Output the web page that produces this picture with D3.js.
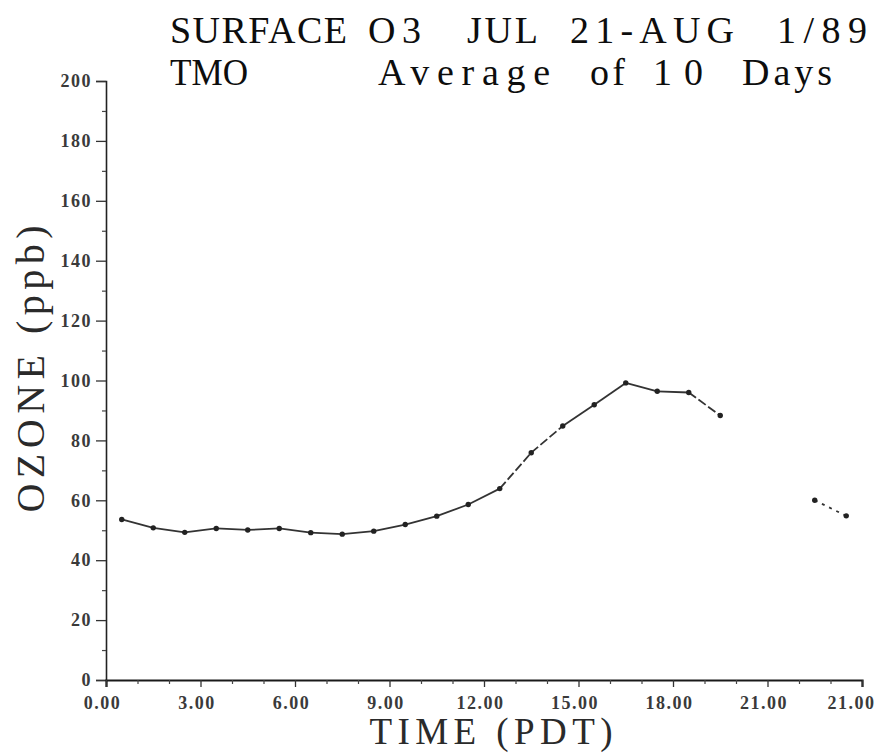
<!DOCTYPE html>
<html>
<head>
<meta charset="utf-8">
<script src="https://cdn.jsdelivr.net/npm/d3@7/dist/d3.min.js"></script>
<style>
  html, body { margin: 0; padding: 0; background: #fff; }
  svg { display: block; }
</style>
</head>
<body>
<svg id="chart" width="891" height="753"></svg>
<script>
// ---- data ----
const hours = [0.5, 1.5, 2.5, 3.5, 4.5, 5.5, 6.5, 7.5, 8.5, 9.5, 10.5, 11.5, 12.5,
               13.5, 14.5, 15.5, 16.5, 17.5, 18.5, 19.5, 20.5, 21.5, 22.5, 23.5];
const ozone = [53.6, 50.8, 49.3, 50.6, 50.1, 50.6, 49.2, 48.7, 49.7, 51.9, 54.7, 58.6, 63.9,
               75.9, 84.8, 91.9, 99.2, 96.4, 96.0, 88.3, null, null, 60.0, 54.8];
const xTickValues = [0, 3, 6, 9, 12, 15, 18, 21, 24];
const xTickLabels = ["0.00", "3.00", "6.00", "9.00", "12.00", "15.00", "18.00", "21.00", "21.00"];
const yTickValues = [0, 20, 40, 60, 80, 100, 120, 140, 160, 180, 200];
const titleLine1 = ["SURFACE", "O3", "JUL", "21-AUG", "1/89"];
const titleLine2 = ["TMO", "Average", "of", "10", "Days"];
const xTitle = "TIME (PDT)";
const yTitle = "OZONE (ppb)";

// ---- layout ----
const svg = d3.select("#chart");
const x = d3.scaleLinear().domain([0, 24]).range([106, 862]);
const y = d3.scaleLinear().domain([0, 200]).range([680, 81]);
const serif = "'Liberation Serif', 'DejaVu Serif', serif";
const ink = "#0d0d0d";

// word placement of the two title lines: [left, width]
const line1Boxes = [[170, 177], [368, 53], [467, 71], [570, 164], [777, 90]];
const line2Boxes = [[170, 78], [378, 172], [590, 35], [653, 50], [742, 90]];

function titleWords(words, boxes, baseline) {
  svg.append("g").selectAll("text").data(words).join("text")
    .attr("x", (d, i) => boxes[i][0])
    .attr("y", baseline)
    .attr("font-family", serif)
    .attr("font-size", 38)
    .attr("fill", ink)
    .text(d => d)
    .each(function (d, i) {
      const natural = this.getComputedTextLength();
      d3.select(this)
        .attr("textLength", boxes[i][1])
        .attr("lengthAdjust", natural > boxes[i][1] ? "spacingAndGlyphs" : "spacing");
    });
}
titleWords(titleLine1, line1Boxes, 43);
titleWords(titleLine2, line2Boxes, 85);

// axis titles
svg.append("text").attr("x", 491).attr("y", 744)
  .attr("text-anchor", "middle")
  .attr("font-family", serif)
  .attr("font-size", 37).attr("fill", "#2a2a2a")
  .attr("textLength", 243).attr("lengthAdjust", "spacing")
  .text(xTitle);
svg.append("text")
  .attr("transform", "translate(44,369) rotate(-90)")
  .attr("text-anchor", "middle")
  .attr("font-family", serif)
  .attr("font-size", 40).attr("fill", "#2a2a2a")
  .attr("textLength", 287).attr("lengthAdjust", "spacing")
  .text(yTitle);

// y axis
const yAxis = d3.axisLeft(y).tickValues(yTickValues).tickSize(10).tickPadding(4)
  .tickFormat(d3.format("d"));
const gy = svg.append("g").attr("transform", "translate(106,0)").call(yAxis);
gy.select(".domain").attr("stroke", "#222").attr("stroke-width", 1.6);
gy.selectAll(".tick line").attr("stroke", "#333").attr("stroke-width", 1.3);
gy.selectAll(".tick text").style("font-family", serif).style("font-size", "18px")
  .style("font-weight", "bold").style("letter-spacing", "1.5px").attr("fill", "#3a3a3a");
const yMinor = d3.axisLeft(y).tickValues(d3.range(10, 200, 20)).tickSize(4).tickFormat("");
const gym = svg.append("g").attr("transform", "translate(106,0)").call(yMinor);
gym.select(".domain").remove();
gym.selectAll(".tick line").attr("stroke", "#444").attr("stroke-width", 1.2);

// x axis
const xAxis = d3.axisBottom(x).tickValues(xTickValues).tickSize(7).tickPadding(9)
  .tickFormat((d, i) => xTickLabels[i]);
const gx = svg.append("g").attr("transform", "translate(0,680)").call(xAxis);
gx.select(".domain").attr("stroke", "#1a1a1a").attr("stroke-width", 2.2);
gx.selectAll(".tick line").attr("stroke", "#333").attr("stroke-width", 1.3);
gx.selectAll(".tick text").style("font-family", serif).style("font-size", "18px")
  .style("font-weight", "bold").style("letter-spacing", "1.5px").attr("fill", "#3a3a3a")
  .attr("dx", (d, i) => i === xTickValues.length - 1 ? -11 : -4);
const xMinor = d3.axisBottom(x).tickValues(d3.range(1, 24).filter(h => h % 3 !== 0))
  .tickSize(4).tickFormat("");
const gxm = svg.append("g").attr("transform", "translate(0,680)").call(xMinor);
gxm.select(".domain").remove();
gxm.selectAll(".tick line").attr("stroke", "#444").attr("stroke-width", 1.2);

// data line
const pts = hours.map((h, i) => ({ h, v: ozone[i] }));
const segs = [];
for (let i = 0; i < pts.length - 1; i++) {
  if (pts[i].v != null && pts[i + 1].v != null) segs.push([pts[i], pts[i + 1]]);
}
const line = d3.line().x(d => x(d.h)).y(d => y(d.v));
svg.append("g").selectAll("path").data(segs).join("path")
  .attr("d", d => line(d))
  .attr("fill", "none")
  .attr("stroke", "#333")
  .attr("stroke-width", 1.8)
  .attr("stroke-dasharray", d => {
    if (d[0].h >= 22) return "3,5";
    if (d[0].h >= 18 || (d[0].h >= 12 && d[0].h < 14)) return "9,3";
    return null;
  });
svg.append("g").selectAll("circle").data(pts.filter(d => d.v != null)).join("circle")
  .attr("cx", d => x(d.h)).attr("cy", d => y(d.v)).attr("r", 2.7)
  .attr("fill", "#222");
</script>
</body>
</html>
